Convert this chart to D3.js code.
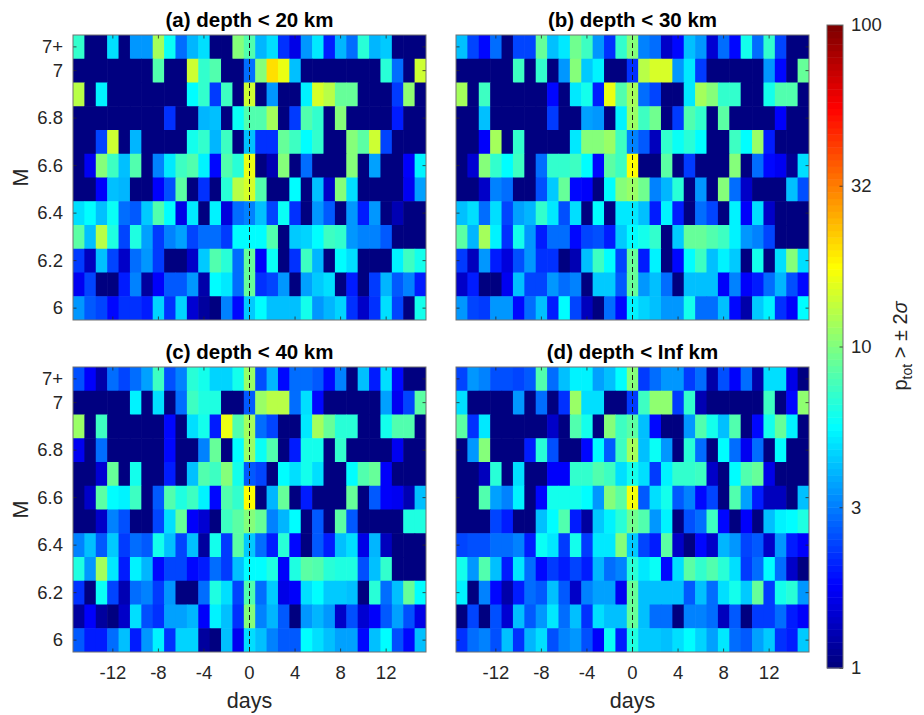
<!DOCTYPE html>
<html><head><meta charset="utf-8">
<script src="https://cdn.jsdelivr.net/npm/d3@7/dist/d3.min.js"></script>
<style>
body{margin:0;background:#fff}
text{font-family:"Liberation Sans",Arial,Helvetica,sans-serif}
</style>
</head><body>
<svg id="chart" width="924" height="715"></svg>
<script>
// ---------------- data ----------------
const days = [-15,-14,-13,-12,-11,-10,-9,-8,-7,-6,-5,-4,-3,-2,-1,0,1,2,3,4,5,6,7,8,9,10,11,12,13,14,15];
const magnitudeBins = ["6","6.1","6.2","6.3","6.4","6.5","6.6","6.7","6.8","6.9","7","7+"];
const yTickLabels = ["6","6.2","6.4","6.6","6.8","7","7+"];
const xTickValues = [-12,-8,-4,0,4,8,12];
const cbTickValues = [1, 3.1623, 10, 31.623, 100];
const cbTickLabels = ["1","3","10","32","100"];
const panelTitles = ["(a) depth < 20 km","(b) depth < 30 km","(c) depth < 40 km","(d) depth < Inf km"];

// p_tot (%) per cell; rows listed from top (7+) to bottom (6), columns day -15..15
const depth20 = [
[7,1,1,5,1,3.5,3.5,12,6,3,4,5,1,1,10,8,4,4.8,2.2,1.6,3.5,5.2,2,4,3,6.8,4,4.5,1,1,1],
[1,1,1,1,1,1,1,8,1,1,14,7,8,1,1,3,10,20,16,4.2,1,1,1,1,1,1,1,6.8,3,1,14],
[13,1,5.4,1,1,1,1,1,1,1,5.6,7,2.3,7.5,1,14,1,3.5,1,1,5.4,15,13,9,9,1,1,1,2.3,10.5,1],
[1,1,1,1,1,1,1,1,2.2,1,1,4,4.3,1,6,8,8,11.5,1,2.3,8,7,1,10,1,1,1,1,2,1,1],
[1,1,2.4,14,1,4,1,1,1,1,6.2,7,4,7.5,1,4.3,2.2,2.2,9,7.5,5.6,7,1,1,10,8.5,14,2.5,1,1,1],
[1,1.7,10,7.5,4.3,8,1,3.3,5.2,7.5,8,5.4,1.9,8,6.8,16,1,1.3,10,1,2.9,1,1,1,10,1,3.8,1,1,1.8,5.4],
[1,1,1.8,4.3,4,1,1,1.8,2.6,8.5,1,2.2,1,6.8,13,14.5,8,1,1,5.5,1,4.3,1.4,10,5,1,1,1,1,1.7,3.8],
[5,5.5,4.3,6,3,2.7,4.5,8,5.6,1.6,5.2,1,5.4,1.55,3,3.3,4.3,2.4,6,2.2,1,3.5,2.7,1,3.5,2,3.5,1,1.3,1,1],
[8.5,4.3,13,6.5,2.4,6.5,3.8,2.3,3.3,3.8,2.4,2.9,3,2.3,5.6,5.6,5.6,8,1,4.5,4.7,5.6,7.5,7,3.5,3.3,3.3,2.7,1,1,1],
[2.3,1.35,4.3,2.5,1.4,3,3.5,2.3,1,1,1.4,4.5,8,6.8,2.9,9,1.8,6,1,2.2,7.5,4,1,5.6,5,1,1,1,5.4,7.5,6.2],
[1.7,2.5,1,1,2,3.3,1.2,1.8,2.7,2.7,3.5,1.25,5.6,5.2,3,9,2.2,2.5,3.5,1,3.8,4.5,5,1,2,1,2.3,4,2.7,3.3,2],
[3.5,2.7,2.4,1.9,2.2,2.2,2,4.7,2.2,4.7,1.5,1.2,1,3.3,1.9,4.5,5.6,4.3,4.2,4.2,6.3,3.5,4,4.7,2.2,1.4,2.2,5,2.5,1,6.3]
];
const depth30 = [
[4.2,2.4,1.9,3,1,2.4,2.4,9,4.3,5.2,9.5,7.5,3.5,2.2,7,10,3.3,3,1.4,1.9,4.2,3.5,1.5,2.9,1.9,6.2,3,7,2.5,1,1],
[1,1,1,1,1,7.5,1,7,1,3.5,10,4.5,5.4,1,1,2.2,13,14.5,14.5,3.5,5.2,2.3,1,1,1,1,1,3.5,1.9,1,9],
[12,1,7.5,1,1,1,1,1,1.9,1,5.2,6.2,2,16,8,12,3,2.4,1,1,5.2,12,10,7,7,1,1,6.2,8,8,1],
[1,1,4.2,1,1,1,1,1,2.3,1,1,3.8,3.5,1,5.4,11,7.5,9.5,1,2.3,8,7,1,8.5,1,1,1,1,1.8,1,1],
[1,1,1.8,11.5,1,7,1,1,1,1,5.2,10,10,11,7.5,3.3,2.7,1.35,7,6,6.8,5.6,1,1,7.5,5.6,11,2,1,1,1],
[1,1.5,10,7,5.6,7.5,1,3,7,7,7.5,5.6,1.9,8.5,7.5,18,1,1,8.5,1,2.3,1,1,1,10,1,3,1.9,1.7,1.1,5],
[1,1,1.4,3.3,3,1,1,2.6,4.5,9,1.9,1.8,1,5.6,10,11,9.5,3.3,4,6.8,1,3.5,1,10,3,1.4,1,1,1,4.3,2.6],
[4.3,5,3,5,2.4,3.8,4,7,5.2,2.6,5,1,5.6,1,5.2,5.2,4.3,2,5.4,2,1,3,2.4,1,5.4,1.8,5,1.4,1,1,1],
[8.5,4,11.5,5.4,2.2,6.2,3.5,2,2.9,3,1.9,2.5,2.6,2,4.5,5.5,6.2,7,1,4.5,9,9,8,7.5,5.4,3.5,3.3,2.4,1,1,1],
[2.3,1.35,3.5,2,1.55,2.6,3.5,2.2,2.2,1,1.3,4.3,7.5,5.6,2.5,9,2,5.4,1,1.9,5.6,7.5,4.3,5.4,4.5,1,6.2,1,5,10,5],
[1.4,2,1,1,1.7,4.3,2.4,2.4,3.5,2.9,3.3,1,4.5,4.5,2.7,9,3.5,4.3,2.9,1,4.2,4.2,4.2,1.8,3.3,1.8,2,3,4,2.6,1.9],
[3.5,2.4,2.3,3.5,3.5,1.9,3,4.2,2,5.6,2.5,1.35,1,3,1.9,5.4,4.7,4.2,3.5,3.5,6.2,3,3,4.2,1.9,1.25,4.5,5.4,2.2,1.8,5.5]
];
const depth40 = [
[2.6,1.8,1.25,2.9,2.4,3,3.8,7.5,2.6,3.3,6.8,6.2,4.7,4.7,6.2,11,2.6,4,1.9,3,3,2.7,1.9,3.3,1,4.2,2,5,1.9,1,1],
[1,1,1,1,1,5.4,1,5,1,2.9,7.5,6.5,6.5,1,1,2.7,11,13,13,3,5,1.9,1,1,1,1,1,3.8,1.7,2.4,8.5],
[11,1,7.5,1,1,1,1,1,1.9,1,5,6.2,2,16,8,11.5,3,2.4,1,1,5.2,11.5,9,6.8,6.8,1,1,6.2,8,8,1],
[1.7,1,3,1,1,1,1,1,1.9,1,1,3.3,9,1,5.6,11,6,8,1,2,6.2,6.2,1,7,1,1,1,1,1.7,1,1],
[1,1,1.5,9,1,6.2,1,1,2,1,4.2,8,7.5,10,6.2,2.7,2.4,1,5.6,5,6.2,5,1,1,5.6,8,9,1.8,1,1,1],
[1,1.4,8.5,5.6,5.4,7.5,1,2.7,8,6.5,7.5,5.4,1.9,8,7,18,1,4,9,1,2,1,1,1,9,1,2.7,1.8,1.7,1.3,4.3],
[1,1,1.4,3.3,2.6,1,1,2.4,5,9,1.8,1.5,1,7.5,8.5,10,9,3.3,4,5.6,1,2.7,1,8.5,2.7,1,1,1,1,6.5,6.5],
[3.3,4.3,2.7,4.5,2.3,3,2.7,6.2,4.3,2.5,4.3,1.2,6.2,2.3,8.5,4.5,3,2,6.8,1.9,1,2.7,2,4.2,5,1.6,4,1.35,1,1,1],
[6.5,3.5,11.5,5.2,2,5.4,4,1.9,2.4,2.4,1.9,2,2.9,2.3,4.2,5.6,5.6,6.5,1.8,6.5,8.5,8,6.8,6.5,6.5,2.6,4.2,7,1,1,1],
[2.2,1,6,2.5,1.3,3,3.3,2.3,3.5,1,1,3,6.5,5,2.5,8,3,4.5,1.6,1.8,5,5.6,4.5,4.5,4.2,1,6.8,3,4.3,9,5.6],
[1.2,1.8,1.2,1,1.4,5,2.6,2.2,3.8,3.8,4,1.8,5.4,4.2,2.2,10,3.3,4,2.7,1,3.5,4,3.5,1.4,2.6,1.5,1.8,2.7,3.8,2.6,1.6],
[2.7,2,2,3,4.3,2,3.5,5.4,2.2,4.7,4.7,1.2,1,4.3,1.7,5,4.3,3.3,2.7,2.7,5.6,5,4.2,3.8,3.8,1.9,4.2,5.6,2.6,1.9,4.3]
];
const depthInf = [
[2.4,3.5,3.3,2.6,2.6,2.4,2.7,8,3,4.2,5.4,5.4,3.8,4.3,5.6,10,2.3,3,3.5,3.5,2.3,3,1.25,2.6,1.8,3,1.25,5,5,1.6,1],
[5,1,1,1,1,3.5,1,3,1,2.2,11,5,5,1,1,2.3,7.5,10.5,10.5,2.3,7,1.3,1,1,1,1,1,7.5,1,1.9,10.5],
[8.5,2.2,5.2,1,1,1,1,1,1.4,1,8,6.2,1,10,7.5,8.5,4.2,1.9,1,1,3.5,8,6.2,4.2,8,1,1.9,6.2,9,5.4,1],
[1,3.5,10,1,1,1,2,6.8,2.6,1,1,1.9,5.6,2.7,7.5,11.5,4.2,6,3.5,1,6.8,2.9,1,5.6,3,1.7,3,1,5.6,1,1],
[1,1,1.35,6.8,1,5,1,1,1.8,1.8,7,7,8,7.5,5,6.2,5,2.3,5.4,7,7,7.5,1.4,1,5.6,8,9,1.6,1,1,1],
[1,1,8,3.8,3.3,5.4,1,1.9,6.2,6.2,6.2,5.6,3.5,10,8.5,17,2.7,5,6.2,2.7,3.3,1.9,2.4,1,8,3.8,2,1.35,1.35,1,4.2],
[1,1,1,2.4,2,1,1,4.2,5.6,8,2,1.2,4.5,5.4,6.8,9.5,8,3.5,5.4,1,2.6,3,7.5,1.9,1,1.8,1,4.2,5.4,5.6,6.5],
[2.4,2.6,2.6,3,3,3.3,2,6,5.2,2.3,6.2,2.3,5.2,5.2,10,4.5,2.5,2,8.5,1.4,1,1.9,1.4,4,3.5,2.4,2.7,1.4,3.5,2,1.8],
[6.2,3.5,8,4.3,2,5.2,3,1.9,2.3,2,2.4,2,4,3,3.3,6.8,5.2,6,1.9,5,8.5,7,8,6.8,5,2.3,3,5.6,3,1.4,1],
[5.4,1,3.3,1.9,1.25,2,3,2.7,4.3,2.7,1.4,3.3,3.8,3.8,1.7,9,4.3,4.3,4.3,4.2,2.7,4.2,3,5,6.2,4.5,9,2.3,6.2,6.8,3.5],
[1,2.4,1,2.6,1.5,4.2,2.7,3.5,5.2,3,4.3,2.2,5,4.3,4.3,9,4.2,3,2.9,1,3.3,3.3,3,1.35,2.7,1,2.3,2.3,3,2,1.8],
[2.2,3,3.3,2.6,4.3,2.2,4,5,2.6,3.3,3.5,2.6,1.8,6,2,6.5,4.5,4.5,4.2,5,5.6,4.7,3.8,5.2,3,2.7,3.8,4.5,2.2,2,4.5]
];

// ---------------- layout ----------------
const PW = 353, PH = 285;
const panels = [
  {data: depth20,  title: panelTitles[0], x: 73,  y: 35,  yLabels: true,  xLabels: false},
  {data: depth30,  title: panelTitles[1], x: 456, y: 35,  yLabels: false, xLabels: false},
  {data: depth40,  title: panelTitles[2], x: 73,  y: 367, yLabels: true,  xLabels: true},
  {data: depthInf, title: panelTitles[3], x: 456, y: 367, yLabels: false, xLabels: true}
];
const NLEV = 100;
const TXT = "#262626";

function jet(t){
  const c = v => Math.max(0, Math.min(1, v));
  return d3.rgb(255*c(1.5-Math.abs(4*t-3)), 255*c(1.5-Math.abs(4*t-2)), 255*c(1.5-Math.abs(4*t-1))).formatHex();
}
const logT = d3.scaleLog().domain([1,100]).range([0,1]).clamp(true);
function colorOf(v){
  const idx = Math.min(NLEV-1, Math.max(0, Math.floor(logT(v)*NLEV)));
  return jet(idx/(NLEV-1));
}

const svg = d3.select("#chart");
const defs = svg.append("defs");
defs.append("clipPath").attr("id","pclip").append("rect").attr("width",PW).attr("height",PH);

function styleAxis(sel, fs){
  sel.select(".domain").remove();
  sel.selectAll(".tick line").attr("stroke", TXT).attr("stroke-width", 0.8);
  sel.selectAll(".tick text").attr("fill", TXT).style("font-size", fs+"px")
     .style("font-family", '"Liberation Sans", Arial, sans-serif');
}

panels.forEach(p => {
  const g = svg.append("g").attr("transform", `translate(${p.x},${p.y})`);
  const x = d3.scaleBand().domain(days).range([0, PW]).padding(0);
  const y = d3.scaleBand().domain(magnitudeBins).range([PH, 0]).padding(0);
  const cells = [];
  p.data.forEach((row, ri) => {
    const m = magnitudeBins[magnitudeBins.length - 1 - ri];
    row.forEach((v, ci) => cells.push({d: days[ci], m: m, v: v}));
  });
  const cg = g.append("g").attr("clip-path", "url(#pclip)");
  cg.selectAll("rect").data(cells).join("rect")
    .attr("x", d => x(d.d)).attr("y", d => y(d.m))
    .attr("width", x.bandwidth() + 0.6).attr("height", y.bandwidth() + 0.6)
    .attr("fill", d => colorOf(d.v));
  // dashed line at day 0
  const x0 = x(0) + x.bandwidth()/2;
  g.append("line").attr("x1", x0).attr("x2", x0).attr("y1", 0).attr("y2", PH)
    .attr("stroke", "#1a1a1a").attr("stroke-width", 1).attr("stroke-dasharray", "5,3");

  const left = g.append("g").call(d3.axisLeft(y).tickValues(yTickLabels).tickSizeInner(-3.5).tickSizeOuter(0).tickPadding(10)
      .tickFormat(d => p.yLabels ? d : ""));
  styleAxis(left, 18.5);
  const right = g.append("g").attr("transform", `translate(${PW},0)`)
    .call(d3.axisRight(y).tickValues(yTickLabels).tickSizeInner(-3.5).tickSizeOuter(0).tickFormat(() => ""));
  styleAxis(right, 18.5);
  const top = g.append("g").call(d3.axisTop(x).tickValues(xTickValues).tickSizeInner(-3.5).tickSizeOuter(0).tickFormat(() => ""));
  styleAxis(top, 18.5);
  const bottom = g.append("g").attr("transform", `translate(0,${PH})`)
    .call(d3.axisBottom(x).tickValues(xTickValues).tickSizeInner(-3.5).tickSizeOuter(0).tickPadding(14)
      .tickFormat(d => p.xLabels ? String(d) : ""));
  styleAxis(bottom, 18.5);

  g.append("rect").attr("x", 0).attr("y", 0).attr("width", PW).attr("height", PH)
    .attr("fill", "none").attr("stroke", "#707070").attr("stroke-width", 1);

  g.append("text").attr("x", PW/2).attr("y", -8).attr("text-anchor", "middle")
    .style("font-size", "20.5px").style("font-weight", "bold").attr("fill", "#000").text(p.title);

  if (p.yLabels) {
    g.append("text").attr("transform", `translate(${28 - p.x},${PH/2}) rotate(-90)`)
      .attr("text-anchor", "middle").style("font-size", "21.5px").attr("fill", TXT).text("M");
  }
  if (p.xLabels) {
    g.append("text").attr("x", PW/2).attr("y", 708 - p.y).attr("text-anchor", "middle")
      .style("font-size", "21.5px").attr("fill", TXT).text("days");
  }
});

// ---------------- colorbar ----------------
const cbX = 827, cbW = 16, cbTop = 25, cbBot = 668;
const cbY = d3.scaleLog().domain([1,100]).range([cbBot, cbTop]);
const cb = svg.append("g");
const levels = d3.range(NLEV);
cb.selectAll("rect").data(levels).join("rect")
  .attr("x", cbX).attr("width", cbW)
  .attr("y", i => cbY(Math.pow(10, 2*(i+1)/NLEV)))
  .attr("height", i => cbY(Math.pow(10, 2*i/NLEV)) - cbY(Math.pow(10, 2*(i+1)/NLEV)) + 0.5)
  .attr("fill", i => jet(i/(NLEV-1)));
const cbAxis = svg.append("g").attr("transform", `translate(${cbX+cbW},0)`)
  .call(d3.axisRight(cbY).tickValues(cbTickValues).tickSizeInner(-3.5).tickSizeOuter(0).tickPadding(8)
    .tickFormat((d,i) => cbTickLabels[i]));
styleAxis(cbAxis, 18.5);
svg.append("rect").attr("x", cbX).attr("y", cbTop).attr("width", cbW).attr("height", cbBot - cbTop)
  .attr("fill", "none").attr("stroke", "#707070").attr("stroke-width", 1);

const lab = svg.append("text").attr("transform", "translate(907,346) rotate(-90)")
  .attr("text-anchor", "middle").style("font-size", "20px").attr("fill", TXT);
lab.append("tspan").text("p");
lab.append("tspan").attr("dy", 5).style("font-size", "14px").text("tot");
lab.append("tspan").attr("dy", -5).text(" > \u00B1 2");
lab.append("tspan").style("font-style", "italic").text("\u03C3");
</script>
</body></html>
